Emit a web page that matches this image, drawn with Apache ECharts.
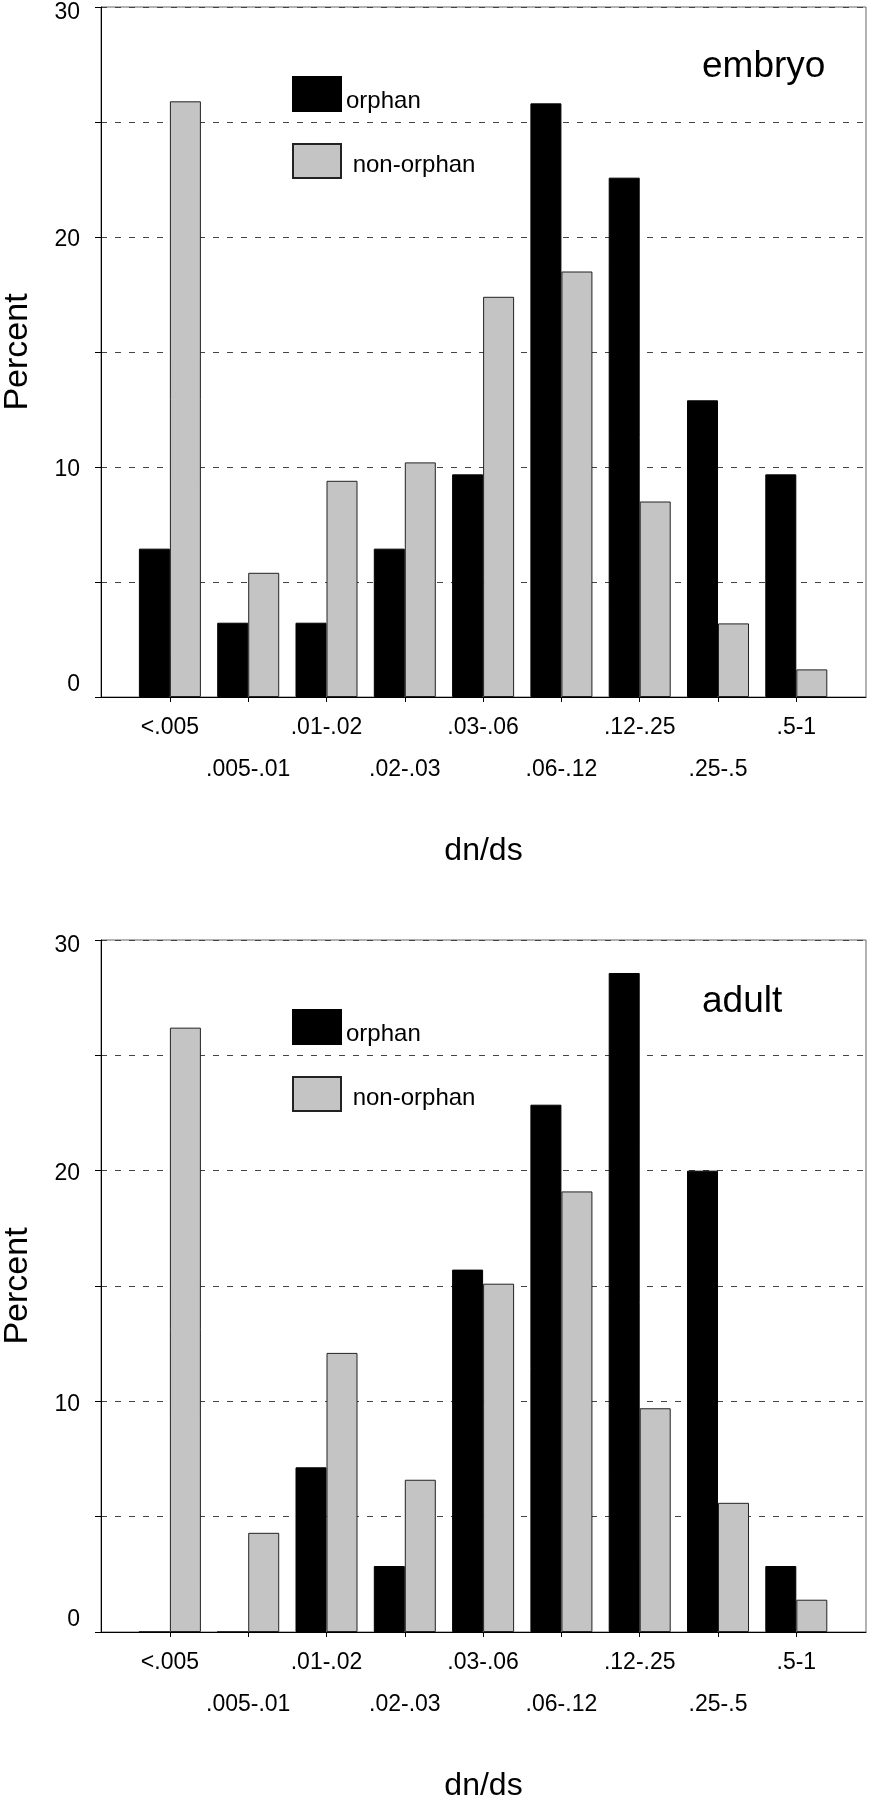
<!DOCTYPE html>
<html>
<head>
<meta charset="utf-8">
<script src="https://cdn.jsdelivr.net/npm/echarts@6/dist/echarts.min.js"></script>
<style>
  html, body { margin: 0; padding: 0; background: #fff; }
  #chart { width: 874px; height: 1800px; }
</style>
</head>
<body>
<div id="chart"></div>
<script>
var categories = ['<.005', '.005-.01', '.01-.02', '.02-.03', '.03-.06', '.06-.12', '.12-.25', '.25-.5', '.5-1'];

// embryo panel
var embryoOrphan = [6.45, 3.23, 3.23, 6.45, 9.68, 25.81, 22.58, 12.9, 9.68];
var embryoNonOrphan = [25.9, 5.4, 9.4, 10.2, 17.4, 18.5, 8.5, 3.2, 1.2];

// adult panel
var adultOrphan = [0, 0, 7.14, 2.86, 15.71, 22.86, 28.57, 20.0, 2.86];
var adultNonOrphan = [26.2, 4.3, 12.1, 6.6, 15.1, 19.1, 9.7, 5.6, 1.4];

var panelNames = ['embryo', 'adult'];
var yLabelled = [0, 10, 20, 30];

var font = 'Liberation Sans, Arial, Helvetica, sans-serif';

var dom = document.getElementById('chart');
var myChart = echarts.init(dom);

var idx = categories.map(function (c, i) { return i; });

function pairs(vals) {
	return vals.map(function (v, i) { return [i, v]; });
}

function xAxisFor(gi) {
	return {
		type: 'value',
		gridIndex: gi,
		min: -0.88,
		max: 8.89,
		name: 'dn/ds',
		nameLocation: 'middle',
		nameGap: 138,
		nameTextStyle: { fontSize: 32, color: '#000', fontFamily: font },
		splitLine: { show: false },
		axisLine: { onZero: false, lineStyle: { color: '#000', width: 1 } },
		axisTick: { customValues: idx, length: 5, lineStyle: { color: '#000' } },
		axisLabel: {
			customValues: idx,
			margin: 10,
			fontSize: 23,
			lineHeight: 42,
			color: '#000',
			fontFamily: font,
			formatter: function (v) {
				var i = Math.round(v);
				return i % 2 === 0 ? categories[i] : '\n' + categories[i];
			}
		}
	};
}

// the printed tick numbers sit a little off their ticks; nudge them the same way
var yRich = {
	z: { fontSize: 23, fontFamily: font, color: '#000', padding: [0, 0, 24, 0] },
	t: { fontSize: 23, fontFamily: font, color: '#000', padding: [12, 0, 0, 0] },
	m: { fontSize: 23, fontFamily: font, color: '#000', padding: [6, 0, 0, 0] }
};

function yAxisFor(gi) {
	return {
		type: 'value',
		gridIndex: gi,
		min: 0,
		max: 30,
		interval: 5,
		name: 'Percent',
		nameLocation: 'middle',
		nameGap: 66,
		nameTextStyle: { fontSize: 34, color: '#000', fontFamily: font },
		axisLine: { show: true, onZero: false, lineStyle: { color: '#000', width: 1 } },
		axisTick: { show: true, length: 6, lineStyle: { color: '#000' } },
		axisLabel: {
			margin: 21,
			fontSize: 23,
			color: '#000',
			fontFamily: font,
			rich: yRich,
			formatter: function (v) {
				if (yLabelled.indexOf(v) < 0) return '';
				if (v === 0) return '{z|0}';
				if (v === 30) return '{t|30}';
				return '{m|' + v + '}';
			}
		},
		splitLine: { show: true, lineStyle: { color: '#444', width: 1, type: [6, 8] } }
	};
}

function barSeries(name, data, gi, color, border) {
	return {
		name: name,
		type: 'bar',
		xAxisIndex: gi,
		yAxisIndex: gi,
		data: pairs(data),
		barWidth: 31,
		barGap: '0%',
		itemStyle: { color: color, borderColor: border, borderWidth: 1 }
	};
}

var gridTops = [7, 940];
var gridHeights = [690, 692];
var titleTops = [43, 978];

option = {
	backgroundColor: '#fff',
	animation: false,
	title: panelNames.map(function (n, i) {
		return {
			text: n,
			left: 697,
			top: titleTops[i],
			textStyle: { fontSize: 37, fontWeight: 'normal', color: '#000', fontFamily: font }
		};
	}),
	legend: gridTops.map(function (t) {
		return {
			data: ['orphan', 'non-orphan'],
			orient: 'vertical',
			left: 287,
			top: t + 64,
			icon: 'rect',
			itemWidth: 48,
			itemHeight: 34,
			itemGap: 30,
			selectedMode: false,
			formatter: function (name) {
				return name === 'non-orphan' ? '{n| ' + name + '}' : '{o|' + name + '}';
			},
			textStyle: {
				fontSize: 24, color: '#000', fontFamily: font,
				rich: {
					o: { fontSize: 24, color: '#000', fontFamily: font, padding: [14, 0, 0, 0] },
					n: { fontSize: 24, color: '#000', fontFamily: font, padding: [8, 0, 0, 0] }
				}
			}
		};
	}),
	grid: gridTops.map(function (t, i) {
		return {
			left: 101,
			right: 8,
			top: t,
			height: gridHeights[i],
			outerBoundsMode: 'none',
			containLabel: false,
			show: true,
			borderColor: '#666',
			borderWidth: 1,
			backgroundColor: 'transparent'
		};
	}),
	xAxis: [xAxisFor(0), xAxisFor(1)],
	yAxis: [yAxisFor(0), yAxisFor(1)],
	series: [
		barSeries('orphan', embryoOrphan, 0, '#000', '#000'),
		barSeries('non-orphan', embryoNonOrphan, 0, '#c4c4c4', '#222'),
		barSeries('orphan', adultOrphan, 1, '#000', '#000'),
		barSeries('non-orphan', adultNonOrphan, 1, '#c4c4c4', '#222')
	]
};

if (option && typeof option === "object") {
	myChart.setOption(option, true);
}
</script>
</body>
</html>
